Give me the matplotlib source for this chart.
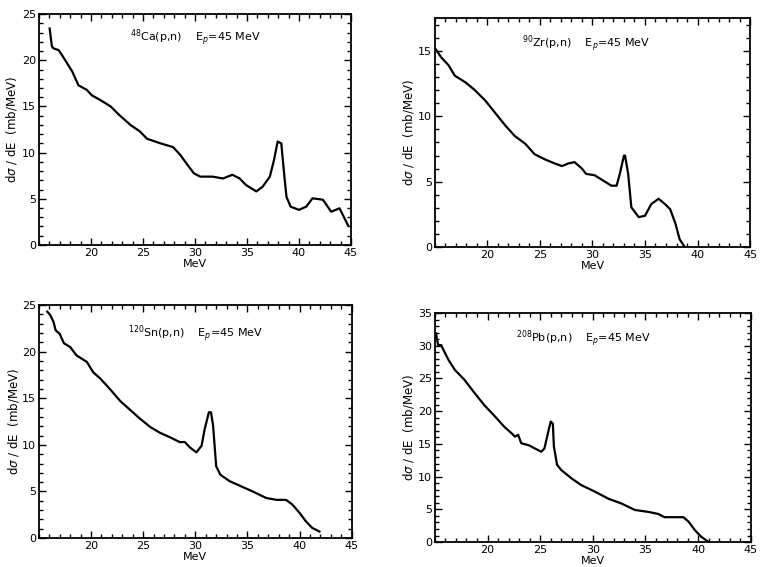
import matplotlib
matplotlib.use("Agg")
import matplotlib.pyplot as plt
from matplotlib.ticker import MultipleLocator

# Дані, зчитані з рисунку: енергія нейтронів (МеВ) і dσ/dE (mb/MeV)
ca_e = [16.03, 16.25, 16.4, 16.9, 17.2, 17.7, 18.2, 18.8, 19.6, 20.1, 20.9, 21.9, 22.7,
        23.8, 24.7, 25.4, 26.7, 27.9, 28.6, 29.2, 29.9, 30.5, 31.7, 32.7, 33.6, 34.3,
        34.9, 35.9, 36.5, 37.2, 37.6, 37.95, 38.3, 38.6, 38.8, 39.2, 40.0, 40.7, 41.3,
        42.3, 43.1, 43.9, 44.7]
ca_xs = [23.45, 21.5, 21.3, 21.1, 20.6, 19.7, 18.8, 17.3, 16.8, 16.2, 15.7, 15.0, 14.1,
         13.0, 12.3, 11.5, 11.0, 10.6, 9.74, 8.8, 7.76, 7.4, 7.4, 7.2, 7.6, 7.2,
         6.5, 5.8, 6.3, 7.4, 9.2, 11.2, 11.0, 7.4, 5.2, 4.15, 3.8, 4.15, 5.05,
         4.9, 3.6, 3.97, 2.16]

zr_e = [15.1, 15.6, 16.3, 16.9, 17.9, 18.8, 19.8, 20.7, 21.7, 22.6, 23.6, 24.5, 25.5,
        26.4, 27.1, 27.7, 28.3, 29.0, 29.4, 30.2, 31.0, 31.8, 32.3, 32.6, 33.0, 33.1,
        33.4, 33.7, 34.4, 35.0, 35.6, 36.3, 36.9, 37.4, 37.9, 38.3, 38.8]
zr_xs = [15.1, 14.5, 13.9, 13.1, 12.6, 12.0, 11.2, 10.3, 9.3, 8.5, 7.9, 7.1, 6.7,
         6.4, 6.2, 6.4, 6.5, 6.0, 5.6, 5.5, 5.1, 4.7, 4.7, 5.6, 7.0, 7.0,
         5.6, 3.05, 2.3, 2.4, 3.3, 3.7, 3.3, 2.9, 1.8, 0.6, 0.0]

sn_e = [15.8, 16.1, 16.4, 16.6, 17.0, 17.4, 18.0, 18.6, 19.6, 20.2, 20.9, 21.8, 22.8,
        23.8, 24.7, 25.7, 26.6, 27.6, 28.5, 29.0, 29.5, 30.1, 30.6, 30.9, 31.3, 31.5,
        31.7, 32.0, 32.4, 33.3, 34.3, 35.5, 36.8, 37.8, 38.7, 39.3, 40.0, 40.6, 41.2, 41.9]
sn_xs = [24.3, 23.9, 23.2, 22.3, 21.9, 20.9, 20.5, 19.6, 18.9, 17.8, 17.1, 16.0, 14.7,
         13.7, 12.8, 11.9, 11.3, 10.8, 10.3, 10.3, 9.7, 9.2, 9.9, 11.7, 13.5, 13.5,
         12.1, 7.7, 6.8, 6.1, 5.6, 5.0, 4.3, 4.1, 4.1, 3.6, 2.7, 1.8, 1.1, 0.7]

pb_e = [15.1, 15.3, 15.6, 15.8, 16.3, 16.9, 17.8, 18.8, 19.7, 20.7, 21.6, 22.3, 22.6,
        22.9, 23.2, 23.9, 24.5, 25.1, 25.4, 25.8, 26.0, 26.2, 26.3, 26.6, 27.0, 28.0,
        28.9, 30.2, 31.5, 32.7, 34.0, 35.3, 36.2, 36.8, 37.8, 38.6, 39.1, 39.7, 40.3, 41.0]
pb_xs = [31.9, 30.1, 30.1, 29.4, 27.8, 26.3, 24.8, 22.7, 20.9, 19.2, 17.6, 16.6, 16.1,
         16.4, 15.1, 14.8, 14.3, 13.8, 14.3, 17.1, 18.4, 18.1, 14.6, 11.8, 11.0, 9.7,
         8.7, 7.7, 6.6, 5.9, 4.9, 4.6, 4.3, 3.8, 3.8, 3.8, 3.1, 1.8, 0.8, 0.0]

titles = [r"$^{48}$Ca(p,n)    E$_p$=45 MeV",
          r"$^{90}$Zr(p,n)    E$_p$=45 MeV",
          r"$^{120}$Sn(p,n)    E$_p$=45 MeV",
          r"$^{208}$Pb(p,n)    E$_p$=45 MeV"]
ymax = [25, 17.5, 25, 35]
yticks = [[0, 5, 10, 15, 20, 25], [0, 5, 10, 15], [0, 5, 10, 15, 20, 25],
          [0, 5, 10, 15, 20, 25, 30, 35]]
xticks = [20, 25, 30, 35, 40, 45]

# Розташування панелей (у частках рисунку)
boxes = [[0.051, 0.568, 0.409, 0.407],
         [0.570, 0.564, 0.413, 0.404],
         [0.051, 0.051, 0.410, 0.411],
         [0.570, 0.044, 0.414, 0.404]]
title_pos = [(0.50, 0.90), (0.48, 0.89), (0.50, 0.88), (0.47, 0.89)]
ylab_x = [-0.064, -0.060, -0.058, -0.060]

data = [(ca_e, ca_xs), (zr_e, zr_xs), (sn_e, sn_xs), (pb_e, pb_xs)]

fig = plt.figure(figsize=(7.63, 5.67), dpi=100)

for i, (e, xs) in enumerate(data):
    ax = fig.add_axes(boxes[i])
    ax.plot(e, xs, color="black", linewidth=1.6)
    ax.set_xlim(15, 45)
    ax.set_ylim(0, ymax[i])
    ax.set_xticks(xticks)
    ax.set_yticks(yticks[i])
    ax.xaxis.set_minor_locator(MultipleLocator(1))
    ax.yaxis.set_minor_locator(MultipleLocator(1))
    ax.tick_params(which="both", direction="in", top=True, right=True,
                   labelsize=8, width=1, pad=2)
    ax.tick_params(which="major", length=5)
    ax.tick_params(which="minor", length=3)
    for s in ax.spines.values():
        s.set_linewidth(1.3)
    ax.set_xlabel("MeV", fontsize=8)
    ax.set_ylabel(r"d$\sigma$ / dE  (mb/MeV)", fontsize=8.5)
    ax.xaxis.set_label_coords(0.5, -0.06)
    ax.yaxis.set_label_coords(ylab_x[i], 0.5)
    ax.text(title_pos[i][0], title_pos[i][1], titles[i], transform=ax.transAxes,
            ha="center", va="center", fontsize=8)

fig.savefig("out.png", dpi=100)
